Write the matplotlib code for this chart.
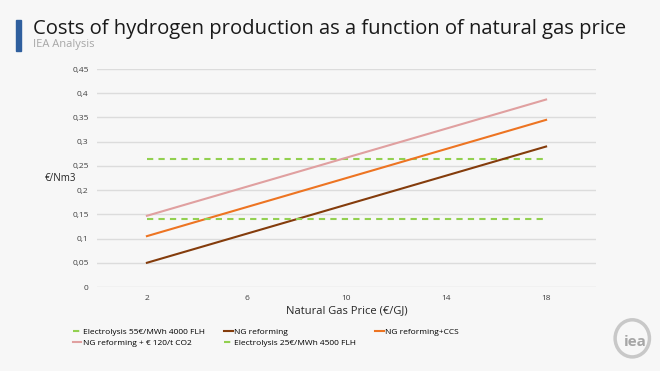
import matplotlib.pyplot as plt
from matplotlib.patches import Ellipse, Rectangle
from matplotlib.ticker import FuncFormatter

plt.rcParams["font.family"] = ["Open Sans", "DejaVu Sans"]

gas_price = [2, 6, 10, 14, 18]
elec_55 = [0.265, 0.265, 0.265, 0.265, 0.265]
ng_ref = [0.05, 0.11, 0.17, 0.23, 0.29]
ng_ccs = [0.105, 0.165, 0.225, 0.285, 0.345]
ng_co2 = [0.147, 0.207, 0.267, 0.327, 0.387]
elec_25 = [0.14, 0.14, 0.14, 0.14, 0.14]

bg = "#f7f7f7"
fig = plt.figure(figsize=(6.6, 3.71), dpi=100, facecolor=bg)
ax = fig.add_axes([0.147, 0.2264, 0.756, 0.5876], facecolor=bg)

green = "#92d050"
h1, = ax.plot(gas_price, elec_55, color=green, lw=1.5, ls=(0, (3, 2.5)), label="Electrolysis 55€/MWh 4000 FLH")
h2, = ax.plot(gas_price, ng_ref, color="#843c0c", lw=1.5, label="NG reforming")
h3, = ax.plot(gas_price, ng_ccs, color="#ed7422", lw=1.5, label="NG reforming+CCS")
h4, = ax.plot(gas_price, ng_co2, color="#e0a0a0", lw=1.5, label="NG reforming + € 120/t CO2")
h5, = ax.plot(gas_price, elec_25, color=green, lw=1.5, ls=(0, (3, 2.5)), label="Electrolysis 25€/MWh 4500 FLH")

ax.set_xlim(0, 20)
ax.set_ylim(0, 0.45)
ax.set_xticks(gas_price)
ax.set_yticks([i * 0.05 for i in range(10)])
ax.yaxis.set_major_formatter(FuncFormatter(lambda v, p: ("%g" % round(v, 2)).replace(".", ",")))
ax.grid(axis="y", color="#dcdcdc", lw=1)
ax.set_axisbelow(True)
for s in ax.spines.values():
    s.set_visible(False)
ax.tick_params(length=0, labelsize=6, colors="#404040", pad=6)

ax.set_xlabel("Natural Gas Price (€/GJ)", fontsize=8, color="#262626", labelpad=2)
fig.text(0.068, 0.52, "€/Nm3", fontsize=7, color="#262626", ha="left", va="center")

fig.add_artist(Rectangle((0.024, 0.862), 0.008, 0.083, transform=fig.transFigure, color="#2f5f9e"))
fig.text(0.05, 0.922, "Costs of hydrogen production as a function of natural gas price",
         fontsize=14.6, color="#1a1a1a", va="center")
fig.text(0.05, 0.88, "IEA Analysis", fontsize=8, color="#a6a6a6", va="center")

# row-major order as in the reference legend
hs = [h1, h4, h2, h5, h3]
ax.legend(hs, [h.get_label() for h in hs], loc="upper left", bbox_to_anchor=(-0.063, -0.155),
          ncol=3, frameon=False, fontsize=6, handlelength=1.0, handletextpad=0.2,
          columnspacing=2.3, labelspacing=0.35)

# logo
fig.add_artist(Ellipse((0.958, 0.088), 0.052, 0.1, transform=fig.transFigure,
                       fc="none", ec="#c8c8c8", lw=2.5))
fig.text(0.962, 0.078, "iea", fontsize=11, color="#a6a6a6", ha="center", va="center", weight="bold")

fig.savefig("out.png", dpi=100, facecolor=bg)
